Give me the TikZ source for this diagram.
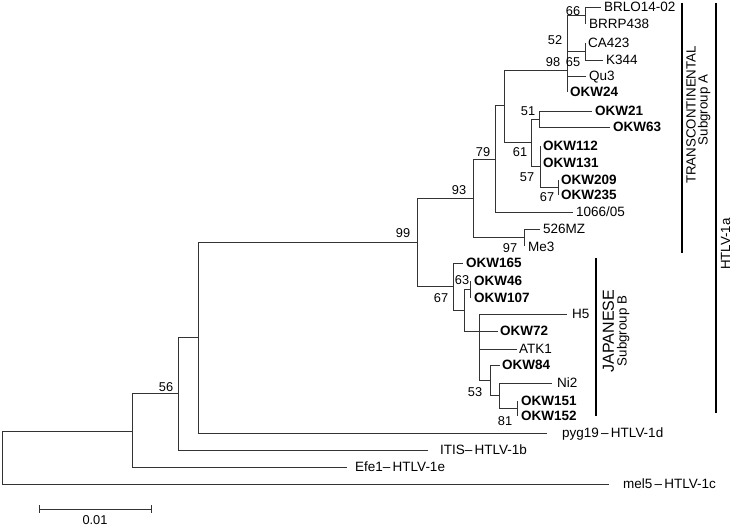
\documentclass[tikz,border=0pt]{standalone}
\usepackage{fontspec}
\setmainfont{Liberation Sans}
\tikzset{
  br/.style={draw=black!80, line width=0.8pt},
  barline/.style={draw=black, line width=1.1pt},
  leaf/.style={anchor=west, inner sep=0pt, text height=9.6pt, text depth=0pt, font=\fontsize{13.5}{15}\selectfont},
  bleaf/.style={leaf, font=\fontsize{13.5}{15}\selectfont\bfseries},
  boot/.style={inner sep=0pt, text height=9pt, text depth=0pt, font=\fontsize{12.8}{14}\selectfont},
  grp/.style={rotate=90, inner sep=0pt, text height=9.4pt, text depth=0pt, font=\fontsize{13.3}{15}\selectfont},
}
\begin{document}
\begin{tikzpicture}[x=1pt,y=-1pt]
\useasboundingbox (0,0) rectangle (733,526);
% internal nodes
\coordinate (R) at (2,457);
\coordinate (A132) at (132,431);
\coordinate (A178) at (178,393);
\coordinate (A198) at (198,337);
\coordinate (N99) at (417,242);
\coordinate (N93) at (473,198);
\coordinate (N79) at (495,159);
\coordinate (N504) at (504,105);
\coordinate (N98) at (567,70);
\coordinate (N66) at (585,15.5);
\coordinate (N65) at (585,51);
\coordinate (N531) at (531,142);
\coordinate (N51) at (539,119);
\coordinate (N540) at (540,166);
\coordinate (N558) at (558,187.5);
\coordinate (NMZ) at (524,237);
\coordinate (N67) at (453,286);
\coordinate (N464) at (464,310);
\coordinate (N63) at (470,289.5);
\coordinate (N479) at (479,331);
\coordinate (N490) at (490,380);
\coordinate (N499) at (499,395);
\coordinate (N517) at (517,408.5);
% tips
\coordinate (tBRLO) at (601,7);
\coordinate (tBRRP) at (585,24);
\coordinate (tCA) at (585,43);
\coordinate (tK) at (603,60);
\coordinate (tQu) at (586,76);
\coordinate (t24) at (567,92);
\coordinate (t21) at (592,111);
\coordinate (t63) at (610,127);
\coordinate (t112) at (540,146);
\coordinate (t131) at (540,163);
\coordinate (t209) at (558,180);
\coordinate (t235) at (558,195);
\coordinate (t1066) at (573,212);
\coordinate (tMZ) at (540,229);
\coordinate (tMe) at (524,246);
\coordinate (t165) at (463,263);
\coordinate (t46) at (470,281);
\coordinate (t107) at (470,298);
\coordinate (tH5) at (567,314);
\coordinate (t72) at (498,331);
\coordinate (tATK) at (517,349);
\coordinate (t84) at (500,365);
\coordinate (tNi) at (552,383);
\coordinate (t151) at (517,401);
\coordinate (t152) at (517,416);
\coordinate (tpyg) at (547,433);
\coordinate (tITIS) at (428,450);
\coordinate (tEfe) at (347,467);
\coordinate (tmel) at (609,484);
% branches
\draw[br] (R) |- (A132) (R) |- (tmel);
\draw[br] (A132) |- (A178) (A132) |- (tEfe);
\draw[br] (A178) |- (A198) (A178) |- (tITIS);
\draw[br] (A198) |- (N99) (A198) |- (tpyg);
\draw[br] (N99) |- (N93) (N99) |- (N67);
\draw[br] (N93) |- (N79) (N93) |- (NMZ);
\draw[br] (N79) |- (N504) (N79) |- (t1066);
\draw[br] (N504) |- (N98) (N504) |- (N531);
\draw[br] (N98) |- (N66) (N98) |- (N65) (N98) |- (tQu) (N98) |- (t24);
\draw[br] (N66) |- (tBRLO) (N66) |- (tBRRP);
\draw[br] (N65) |- (tCA) (N65) |- (tK);
\draw[br] (N531) |- (N51) (N531) |- (N540);
\draw[br] (N51) |- (t21) (N51) |- (t63);
\draw[br] (N540) |- (t112) (N540) |- (t131) (N540) |- (N558);
\draw[br] (N558) |- (t209) (N558) |- (t235);
\draw[br] (NMZ) |- (tMZ) (NMZ) |- (tMe);
\draw[br] (N67) |- (t165) (N67) |- (N464);
\draw[br] (N464) |- (N63) (N464) |- (N479);
\draw[br] (N63) |- (t46) (N63) |- (t107);
\draw[br] (N479) |- (tH5) (N479) |- (t72) (N479) |- (tATK) (N479) |- (N490);
\draw[br] (N490) |- (t84) (N490) |- (N499);
\draw[br] (N499) |- (tNi) (N499) |- (N517);
\draw[br] (N517) |- (t151) (N517) |- (t152);
% leaf labels
\node[leaf] (lBRLO) at (604,7) {BRLO14-02};
\node[leaf] (lBRRP) at (589,24) {BRRP438};
\node[leaf] (lCA) at (588,43) {CA423};
\node[leaf] (lK) at (606,60) {K344};
\node[leaf] (lQu) at (589,76) {Qu3};
\node[bleaf] (l24) at (570,92) {OKW24};
\node[bleaf] (l21) at (595,111) {OKW21};
\node[bleaf] (l63) at (613,127) {OKW63};
\node[bleaf] (l112) at (543,146) {OKW112};
\node[bleaf] (l131) at (543,163) {OKW131};
\node[bleaf] (l209) at (561,180) {OKW209};
\node[bleaf] (l235) at (561,195) {OKW235};
\node[leaf] (l1066) at (576,212) {1066/05};
\node[leaf] (lMZ) at (543,229) {526MZ};
\node[leaf] (lMe) at (528,247) {Me3};
\node[bleaf] (l165) at (466,263) {OKW165};
\node[bleaf] (l46) at (474,281) {OKW46};
\node[bleaf] (l107) at (474,298) {OKW107};
\node[leaf] (lH5) at (572,314) {H5};
\node[bleaf] (l72) at (500,331) {OKW72};
\node[leaf] (lATK) at (519,349) {ATK1};
\node[bleaf] (l84) at (502,365) {OKW84};
\node[leaf] (lNi) at (557,383) {Ni2};
\node[bleaf] (l151) at (521,401) {OKW151};
\node[bleaf] (l152) at (521,416) {OKW152};
\node[leaf] (lpyg) at (562,433) {pyg19\,–\,HTLV-1d};
\node[leaf] (lITIS) at (440,450) {ITIS–\,HTLV-1b};
\node[leaf] (lEfe) at (355,467) {Efe1–\,HTLV-1e};
\node[leaf] (lmel) at (623,484) {mel5\,–\,HTLV-1c};
% bootstrap values
\node[boot] (b66) at (573,11) {66};
\node[boot] (b52) at (555,40) {52};
\node[boot] (b98) at (553,62) {98};
\node[boot] (b65) at (573,62) {65};
\node[boot] (b51) at (528,111) {51};
\node[boot] (b61) at (520,152) {61};
\node[boot] (b57) at (527,177) {57};
\node[boot] (b67a) at (547,197) {67};
\node[boot] (b79) at (483,152) {79};
\node[boot] (b93) at (459,190) {93};
\node[boot] (b99) at (403,233) {99};
\node[boot] (b97) at (510,248) {97};
\node[boot] (b63) at (462,280) {63};
\node[boot] (b67b) at (441,298) {67};
\node[boot] (b53) at (475,392) {53};
\node[boot] (b81) at (505,421) {81};
\node[boot] (b56) at (166,387) {56};
% group bars
\coordinate (gTa) at (682,3);
\coordinate (gTb) at (682,253);
\coordinate (gJa) at (596,258);
\coordinate (gJb) at (596,416);
\coordinate (gHa) at (716,3);
\coordinate (gHb) at (716,413);
\draw[barline] (gTa) -- (gTb);
\draw[barline] (gJa) -- (gJb);
\draw[barline] (gHa) -- (gHb);
\node[grp] (tTC) at (691,115) {TRANSCONTINENTAL};
\node[grp] (tSA) at (703,110) {Subgroup A};
\node[grp, text height=11.5pt, font=\fontsize{16}{18}\selectfont] (tJP) at (608,331) {JAPANESE};
\node[grp] (tSB) at (622,331) {Subgroup B};
\node[grp] (tHT) at (725.5,244) {HTLV-1a};
% scale bar
\coordinate (sa) at (39,509);
\coordinate (sb) at (151,509);
\draw[br] (sa) -- (sb);
\draw[br] ([yshift=4pt]sa) -- ([yshift=-4pt]sa);
\draw[br] ([yshift=4pt]sb) -- ([yshift=-4pt]sb);
\node[boot] (lscale) at (95,519.5) {0.01};
\end{tikzpicture}
\end{document}
